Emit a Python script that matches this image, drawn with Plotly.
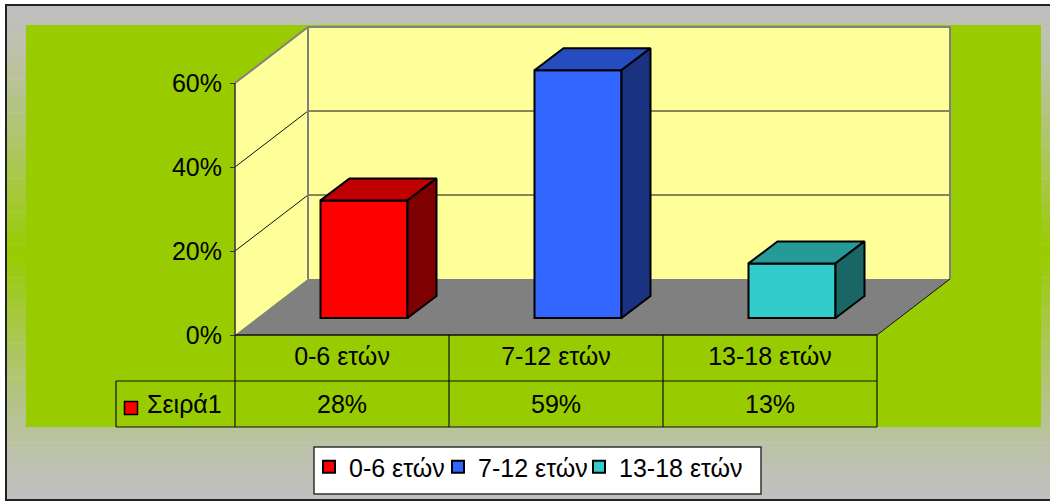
import plotly.graph_objects as go

# ---- data ----
categories = ["0-6 ετών", "7-12 ετών", "13-18 ετών"]
values = [28, 59, 13]
series_name = "Σειρά1"
y_ticks = [0, 20, 40, 60]
front_colors = ["#FF0000", "#3366FF", "#33CCCC"]
top_colors = ["#BF0000", "#264DBF", "#269999"]
side_colors = ["#7F0000", "#1A3380", "#1A6666"]

W, H = 1050, 502
X0, CAT_W = 235, 214          # pixel of category 0, pixels per category
Y0, PCT_H = 335, 4.2          # pixel of 0 %, pixels per percent
FONT = "Liberation Sans, Arial, sans-serif"
FS = 25

def px(p):  # pixel -> x data
    return (p - X0) / CAT_W
def py(p):  # pixel -> y data
    return (Y0 - p) / PCT_H

DX, DY = 73 / CAT_W, 56 / PCT_H          # full depth of the floor
BAR_OX, BAR_OY = 22 / CAT_W, 17 / PCT_H  # bar front plane
BDX, BDY = 29 / CAT_W, 22 / PCT_H        # bar depth
BAR_W = 87 / CAT_W
N = len(categories)
YMAX = y_ticks[-1]

fig = go.Figure()
shapes = []

# gradient background
border_l, border_t, border_b = 6, 5, 500
steps = 60
for i in range(steps):
    y0 = border_t + (border_b - border_t) * i / steps
    y1 = border_t + (border_b - border_t) * (i + 1) / steps
    f = 1 - abs((i + 0.5) / steps - 0.5) * 2
    f = f ** 1.3
    c = (round(192 - 39 * f), round(192 + 12 * f), round(192 - 192 * f))
    shapes.append(dict(type="rect", xref="paper", yref="paper", layer="below",
                       x0=border_l / W, x1=1, y0=1 - y0 / H, y1=1 - (y1 + 0.5) / H,
                       fillcolor=f"rgb{c}", line_width=0))
# outer border
shapes.append(dict(type="rect", xref="paper", yref="paper", layer="below",
                   x0=border_l / W, x1=1.02, y0=1 - border_b / H, y1=1 - border_t / H,
                   line=dict(color="#222222", width=2), fillcolor="rgba(0,0,0,0)"))
# green plot area
shapes.append(dict(type="rect", xref="x", yref="y", layer="below",
                   x0=px(26), x1=px(1041), y0=py(427), y1=py(25),
                   fillcolor="#99CC00", line_width=0))

def poly(pts, fill=None, line=None, width=1):
    path = "M" + " L".join(f"{x},{y}" for x, y in pts) + (" Z" if fill else "")
    d = dict(type="path", xref="x", yref="y", layer="below", path=path)
    if fill:
        d["fillcolor"] = fill
    if line:
        d["line"] = dict(color=line, width=width)
    else:
        d["line"] = dict(width=0)
    shapes.append(d)

# back wall, side wall, floor
poly([(DX, DY), (N + DX, DY), (N + DX, YMAX + DY), (DX, YMAX + DY)], fill="#FFFF99")
poly([(0, 0), (DX, DY), (DX, YMAX + DY), (0, YMAX)], fill="#FFFF99")
poly([(0, 0), (DX, DY), (N + DX, DY), (N, 0)], fill="#808080")
# gridlines
for t in y_ticks[1:-1]:
    poly([(0, t), (DX, t + DY), (N + DX, t + DY)], line="#111111", width=1)
# wall edges
poly([(0, YMAX), (DX, YMAX + DY), (N + DX, YMAX + DY), (N + DX, DY)], line="#808080", width=2)
poly([(DX, DY), (DX, YMAX + DY)], line="#808080", width=2)
poly([(N, 0), (N + DX, DY)], line="#111111", width=1)
# value axis line
poly([(0, 0), (0, YMAX)], line="#333333", width=1.5)

# data table
row1, row2 = py(381), py(427)
poly([(0, 0), (N, 0)], line="#111111", width=1.5)
poly([(px(116), row1), (N, row1)], line="#111111", width=1.2)
poly([(px(116), row2), (N, row2)], line="#111111", width=1.2)
poly([(px(116), row1), (px(116), row2)], line="#111111", width=1.2)
for i in range(N + 1):
    poly([(i, 0), (i, row2)], line="#111111", width=1.2)

# bars: front faces are real bars, top and side faces derive from the same values
legend_pos = [309, 438, 579]
for i, (cat, v) in enumerate(zip(categories, values)):
    cx = i + 0.5 + BAR_OX
    fig.add_trace(go.Bar(x=[cx], y=[v], base=[BAR_OY], width=BAR_W, name=cat,
                         marker=dict(color=front_colors[i], line=dict(color="#000000", width=2)),
                         legend="legend" if i == 0 else f"legend{i + 1}",
                         hoverinfo="skip"))
for i, v in enumerate(values):
    cx = i + 0.5 + BAR_OX
    l, r = cx - BAR_W / 2, cx + BAR_W / 2
    b, t = BAR_OY, BAR_OY + v
    top_x = [l, r, r + BDX, l + BDX, l]
    top_y = [t, t, t + BDY, t + BDY, t]
    side_x = [r, r + BDX, r + BDX, r, r]
    side_y = [b, b + BDY, t + BDY, t, b]
    fig.add_trace(go.Scatter(x=top_x, y=top_y, mode="lines", fill="toself",
                             fillcolor=top_colors[i], line=dict(color="#000000", width=2),
                             showlegend=False, hoverinfo="skip"))
    fig.add_trace(go.Scatter(x=side_x, y=side_y, mode="lines", fill="toself",
                             fillcolor=side_colors[i], line=dict(color="#000000", width=2),
                             showlegend=False, hoverinfo="skip"))

# series swatch in table
fig.add_trace(go.Scatter(x=[px(131)], y=[py(408)], mode="markers",
                         marker=dict(symbol="square", size=13, color=front_colors[0],
                                     line=dict(color="#000000", width=1.5)),
                         showlegend=False, hoverinfo="skip"))

annotations = [dict(x=px(145), y=py(404), xref="x", yref="y", text=series_name, showarrow=False,
                    xanchor="left", yanchor="middle", font=dict(family=FONT, size=FS, color="#000000"))]
for i, v in enumerate(values):
    annotations.append(dict(x=i + 0.5, y=py(404), xref="x", yref="y", text=f"{v}%", showarrow=False,
                            xanchor="center", yanchor="middle",
                            font=dict(family=FONT, size=FS, color="#000000")))

# legend box
shapes.append(dict(type="rect", xref="paper", yref="paper", layer="below",
                   x0=314 / W, x1=761 / W, y0=1 - 494 / H, y1=1 - 447 / H,
                   fillcolor="#FFFFFF", line=dict(color="#333333", width=1.5)))

layout_legends = {}
for i, p in enumerate(legend_pos):
    key = "legend" if i == 0 else f"legend{i + 1}"
    layout_legends[key] = dict(x=p / W, y=1 - 467 / H, xanchor="left", yanchor="middle",
                               bgcolor="rgba(0,0,0,0)", borderwidth=0,
                               font=dict(family=FONT, size=FS, color="#000000"),
                               itemclick=False, itemdoubleclick=False)

fig.update_layout(
    width=W, height=H, margin=dict(l=0, r=0, t=0, b=0, pad=0),
    paper_bgcolor="#FFFFFF", plot_bgcolor="rgba(0,0,0,0)",
    barmode="overlay", showlegend=True, shapes=shapes, annotations=annotations,
    xaxis=dict(range=[px(0), px(W)], domain=[0, 1], anchor="free", position=1 - Y0 / H,
               tickmode="array", tickvals=[i + 0.5 for i in range(N)], ticktext=categories,
               ticks="", showgrid=False, zeroline=False, showline=False,
               ticklabelstandoff=4, tickangle=0,
               tickfont=dict(family=FONT, size=FS, color="#000000")),
    yaxis=dict(range=[py(H), py(0)], domain=[0, 1], anchor="free", position=X0 / W,
               tickmode="array", tickvals=y_ticks, ticktext=[f"{t}%" for t in y_ticks],
               ticks="outside", ticklen=5, tickcolor="#333333", tickwidth=1,
               ticklabelstandoff=3, showgrid=False, zeroline=False, showline=False,
               tickfont=dict(family=FONT, size=FS, color="#000000")),
    **layout_legends,
)

fig.write_html("out.html", post_script="document.body.style.margin='0';document.documentElement.style.overflow='hidden';",
               config={"displayModeBar": False})
